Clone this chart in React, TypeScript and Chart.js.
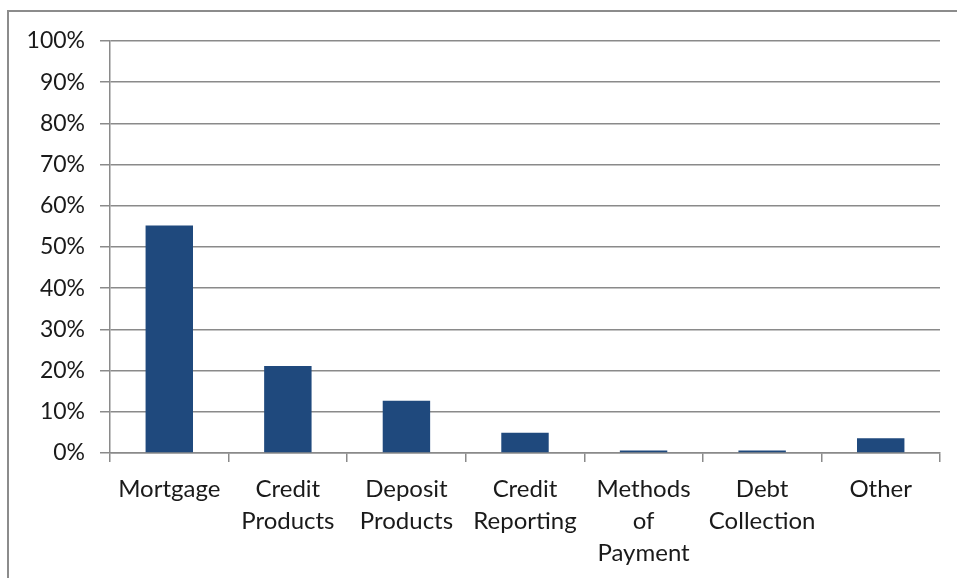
import React, { useEffect, useRef } from "react";
import { Chart, registerables } from "chart.js";

Chart.register(...registerables);

const categories: string[][] = [
  ["Mortgage"],
  ["Credit", "Products"],
  ["Deposit", "Products"],
  ["Credit", "Reporting"],
  ["Methods", "of", "Payment"],
  ["Debt", "Collection"],
  ["Other"],
];
const shares: number[] = [55.2, 21.1, 12.7, 4.9, 0.6, 0.6, 3.6];
const yTickStep = 10;
const yMax = 100;

const GRID = "#8a8a8a";
const FONT = "Lato";

export default function App() {
  const ref = useRef<HTMLCanvasElement | null>(null);

  useEffect(() => {
    if (!ref.current) return;
    const chart = new Chart(ref.current, {
      type: "bar",
      data: {
        labels: categories,
        datasets: [
          {
            data: shares,
            backgroundColor: "#1F497D",
            borderWidth: 0,
            barPercentage: 0.4,
            categoryPercentage: 1,
          },
        ],
      },
      options: {
        animation: false,
        responsive: false,
        maintainAspectRatio: false,
        layout: { padding: { left: 0, top: 41, right: 17, bottom: 0 } },
        plugins: { legend: { display: false }, tooltip: { enabled: false } },
        scales: {
          x: {
            grid: {
              offset: true,
              drawOnChartArea: false,
              drawTicks: true,
              tickLength: 9,
              color: GRID,
              lineWidth: 1.5,
            },
            border: { display: true, color: GRID, width: 1.5 },
            ticks: {
              color: "#1a1a1a",
              font: { family: FONT, size: 24, lineHeight: 1.34 },
              padding: 11,
              maxRotation: 0,
              autoSkip: false,
            },
            afterFit: (scale: any) => {
              scale.height = 578 - 453;
            },
          },
          y: {
            min: 0,
            max: yMax,
            grid: {
              color: GRID,
              lineWidth: 1.5,
              drawTicks: true,
              tickLength: 10,
            },
            border: { display: true, color: GRID, width: 1.5 },
            ticks: {
              stepSize: yTickStep,
              color: "#1a1a1a",
              font: { family: FONT, size: 23 },
              padding: 15,
              callback: (v: any) => `${v}%`,
            },
            afterFit: (scale: any) => {
              scale.width = 110;
            },
          },
        },
      },
    });
    return () => chart.destroy();
  }, []);

  return (
    <div
      style={{
        position: "fixed",
        left: 0,
        top: 0,
        width: 957,
        height: 578,
        background: "#fff",
        overflow: "hidden",
      }}
    >
      <div
        style={{
          position: "absolute",
          left: 7,
          top: 10,
          width: 1000,
          height: 1000,
          borderLeft: "2px solid #8c8c8c",
          borderTop: "2px solid #8c8c8c",
        }}
      />
      <canvas
        ref={ref}
        width={957}
        height={578}
        style={{ position: "absolute", left: 0, top: 0, width: 957, height: 578 }}
      />
    </div>
  );
}
